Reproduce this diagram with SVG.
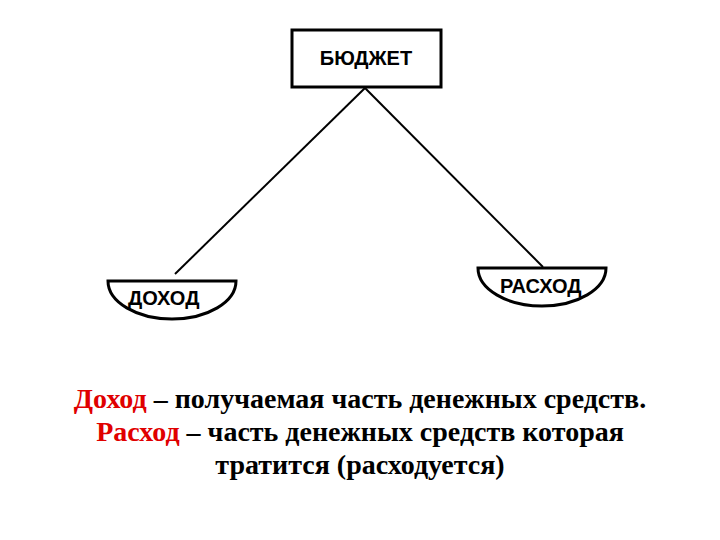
<svg xmlns="http://www.w3.org/2000/svg" width="720" height="540" viewBox="0 0 720 540">
<style>
.shape{fill:#fff;stroke:#000;stroke-width:3}
.lbl{font-family:"Liberation Sans",Arial,sans-serif;font-weight:bold;font-size:20px;fill:#000}
.cap{font-family:"Liberation Serif","Times New Roman",serif;font-weight:bold;font-size:28px;fill:#000;text-anchor:middle}
.red{fill:#e00000}
.conn{stroke:#000;stroke-width:2;fill:none}
</style>
<rect width="720" height="540" fill="#fff"/>
<g id="connectors">
<line class="conn" x1="365" y1="88" x2="175" y2="274"/>
<line class="conn" x1="365" y1="88" x2="543" y2="267"/>
</g>
<g id="budget">
<rect class="shape" x="292" y="30" width="149" height="57"/>
<text class="lbl" x="366" y="65" text-anchor="middle">БЮДЖЕТ</text>
</g>
<g id="income">
<path class="shape" d="M108,281 H236 A64,38 0 0 1 108,281 Z"/>
<text class="lbl" x="128" y="305">ДОХОД</text>
</g>
<g id="expense">
<path class="shape" d="M478,268 H606 A64,38 0 0 1 478,268 Z"/>
<text class="lbl" x="500" y="293">РАСХОД</text>
</g>
<g id="caption">
<text class="cap" x="360" y="408"><tspan class="red">Доход</tspan> – получаемая часть денежных средств.</text>
<text class="cap" x="360" y="441"><tspan class="red">Расход</tspan> – часть денежных средств которая</text>
<text class="cap" x="360" y="474">тратится (расходуется)</text>
</g>
</svg>
